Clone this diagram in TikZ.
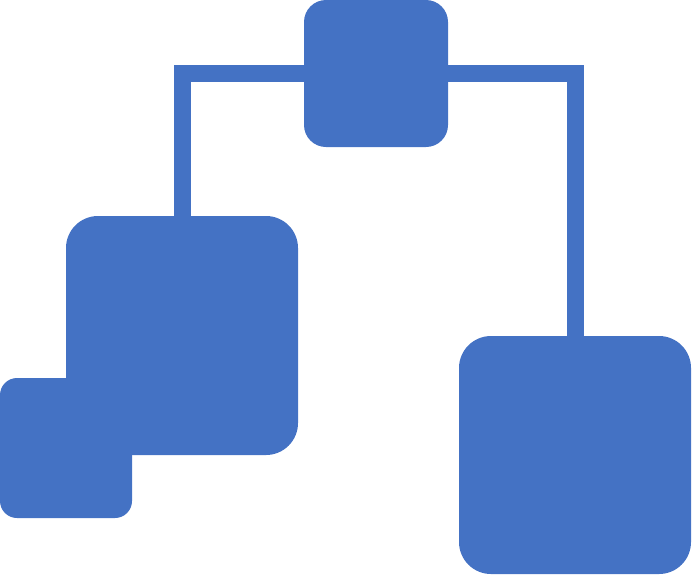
\documentclass[tikz,border=0pt]{standalone}
\definecolor{blk}{HTML}{4472C4}
\begin{document}
\begin{tikzpicture}[x=1pt,y=1pt,
  box/.style={fill=blk,draw=none,inner sep=0pt,outer sep=0pt,rectangle},
  link/.style={draw=blk,line width=17pt,line join=miter}]
\useasboundingbox (0,0) rectangle (692,-574);
\node[box,minimum width=144pt,minimum height=147pt,rounded corners=22pt] (top) at (376,-73.5) {};
\node[box,minimum width=232pt,minimum height=239pt,rounded corners=32pt] (left) at (182,-335.5) {};
\node[box,minimum width=132pt,minimum height=140pt,rounded corners=17pt] (small) at (66,-448) {};
\node[box,minimum width=232pt,minimum height=238pt,rounded corners=32pt] (right) at (575,-455) {};
\draw[link] (top.west) -| (left.north);
\draw[link] (top.east) -| (right.north);
\end{tikzpicture}
\end{document}
